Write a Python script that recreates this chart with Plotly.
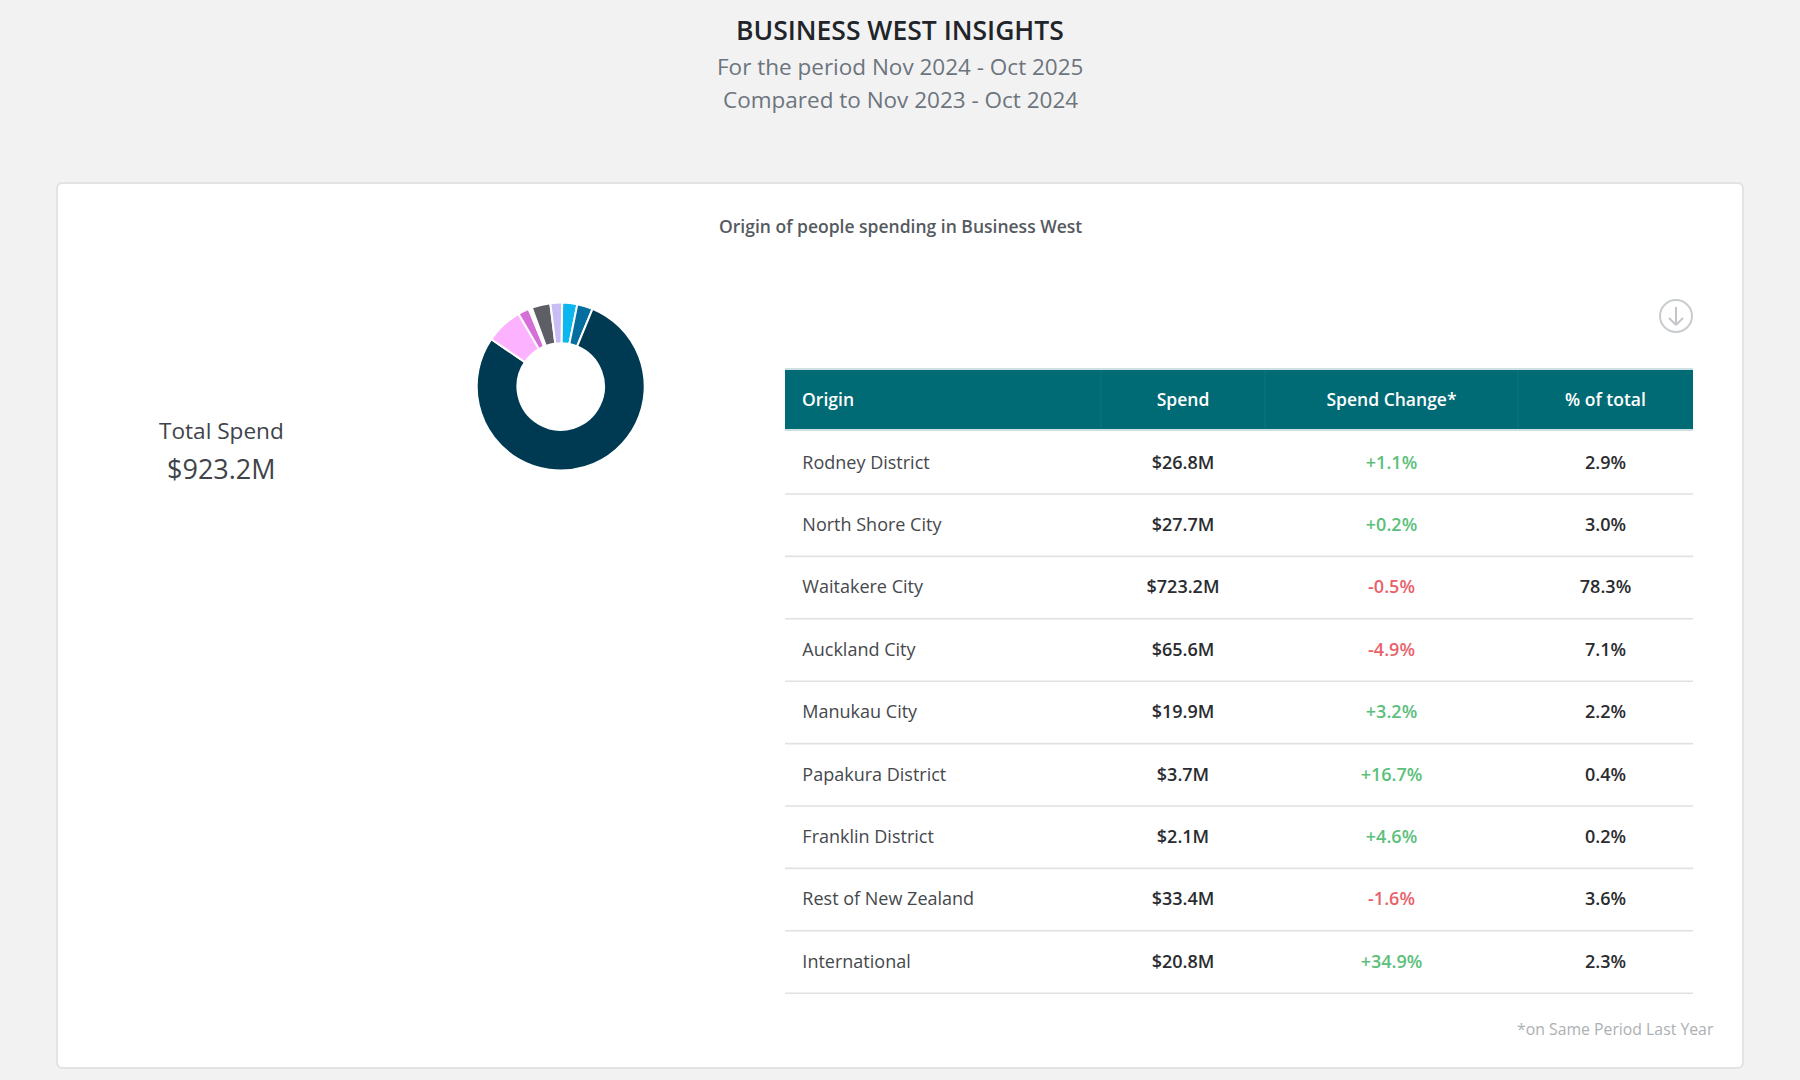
import plotly.graph_objects as go

W, H = 1800, 1080

origins = ["Rodney District", "North Shore City", "Waitakere City", "Auckland City", "Manukau City",
           "Papakura District", "Franklin District", "Rest of New Zealand", "International"]
spend = [26.8, 27.7, 723.2, 65.6, 19.9, 3.7, 2.1, 33.4, 20.8]
change = [1.1, 0.2, -0.5, -4.9, 3.2, 16.7, 4.6, -1.6, 34.9]
share = [2.9, 3.0, 78.3, 7.1, 2.2, 0.4, 0.2, 3.6, 2.3]
slice_colors = ["#0cb6ee", "#066d9f", "#003a52", "#fdb2ff", "#d36fd6", "#f7eef7", "#f7f7f7", "#5e5e66", "#c9bdf5"]
headers = ["Origin", "Spend", "Spend Change*", "% of total"]
column_px = [316, 164, 253, 175]

FONT = "Open Sans"
TEAL = "#006b75"
INK = "#2a2c30"
GREEN = "#5cbf7c"
RED = "#e8626c"
RULE = "#dfe1e3"
# plotly puts table text at the top of the cell, so the table sits lower than its painted rows
TEXT_DROP = 16


def px(x):
    return x / W


def py(y):
    return 1 - y / H


def note(x, y, text, size, color, weight=400, anchor="center"):
    return dict(x=px(x), y=py(y), xref="paper", yref="paper", text=text, showarrow=False,
                xanchor=anchor, yanchor="middle", font=dict(family=FONT, size=size, color=color, weight=weight))


def rule(x0, y0, x1, y1, color=RULE, width=1.6):
    return dict(type="line", xref="paper", yref="paper", x0=px(x0), y0=py(y0), x1=px(x1), y1=py(y1),
                line=dict(color=color, width=width), layer="above")


def card_path(x0, y0, x1, y1, r):
    return (f"M {px(x0 + r)} {py(y0)} L {px(x1 - r)} {py(y0)} Q {px(x1)} {py(y0)} {px(x1)} {py(y0 + r)} "
            f"L {px(x1)} {py(y1 - r)} Q {px(x1)} {py(y1)} {px(x1 - r)} {py(y1)} "
            f"L {px(x0 + r)} {py(y1)} Q {px(x0)} {py(y1)} {px(x0)} {py(y1 - r)} "
            f"L {px(x0)} {py(y0 + r)} Q {px(x0)} {py(y0)} {px(x0 + r)} {py(y0)} Z")


fig = go.Figure()

fig.add_trace(go.Pie(
    labels=origins, values=spend, hole=0.515, sort=False, direction="clockwise", rotation=1,
    marker=dict(colors=slice_colors, line=dict(color="#ffffff", width=2)),
    textinfo="none", showlegend=False,
    domain=dict(x=[px(560.7 - 84), px(560.7 + 84)], y=[py(386.5 + 84), py(386.5 - 84)]),
))

origin_col = ["\u00a0\u00a0" + o for o in origins]
spend_col = ["$%.1fM" % v for v in spend]
change_col = ["%+.1f%%" % v for v in change]
share_col = ["%.1f%%" % v for v in share]
change_colors = [GREEN if v > 0 else RED for v in change]
row_count = len(origins)

fig.add_trace(go.Table(
    domain=dict(x=[px(785), px(1693)], y=[py(1010), py(369 + TEXT_DROP)]),
    columnwidth=column_px,
    header=dict(
        values=["\u00a0\u00a0" + headers[0]] + headers[1:],
        fill_color="rgba(0,0,0,0)", line_width=0, height=62, align=["left", "center", "center", "center"],
        font=dict(family=FONT, size=17.5, color="#ffffff", weight=600),
    ),
    cells=dict(
        values=[origin_col, spend_col, change_col, share_col],
        fill_color="rgba(0,0,0,0)", line_width=0, height=62.4, align=["left", "center", "center", "center"],
        font=dict(family=FONT, size=18, color=["#45484c", INK, change_colors, INK], weight=[400, 600, 600, 600]),
    ),
))

shapes = [
    dict(type="path", xref="paper", yref="paper", path=card_path(57, 183, 1743, 1068, 6),
         fillcolor="#ffffff", line=dict(color="#e2e3e4", width=2), layer="below"),
    dict(type="rect", xref="paper", yref="paper", x0=px(785), y0=py(369), x1=px(1693), y1=py(430),
         fillcolor=TEAL, line_width=0, layer="below"),
]

# row rules and header details
for i in range(row_count):
    y = 494 + i * 62.4
    shapes.append(rule(785, y, 1693, y))
shapes.append(rule(785, 369, 1693, 369, "#cfe0e3", 2))
shapes.append(rule(785, 430, 1693, 430, "#cfe0e3", 2))
for x in [1101, 1265, 1518]:
    shapes.append(rule(x, 370, x, 429, "#0d7680", 1))

# download icon
shapes.append(dict(type="circle", xref="paper", yref="paper", x0=px(1660), y0=py(332), x1=px(1692), y1=py(300),
                   line=dict(color="#c9cccf", width=2), layer="above"))
shapes.append(rule(1676, 307, 1676, 325, "#c4c7ca", 2))
shapes.append(rule(1669, 318, 1676, 325, "#c4c7ca", 2))
shapes.append(rule(1683, 318, 1676, 325, "#c4c7ca", 2))

annotations = [
    note(900, 30, "BUSINESS WEST INSIGHTS", 26.5, "#212529", 600),
    note(900, 66, "For the period Nov 2024 - Oct 2025", 22.5, "#6c757d"),
    note(900, 100, "Compared to Nov 2023 - Oct 2024", 22.5, "#6c757d"),
    note(900, 226, "Origin of people spending in Business West", 17.5, "#555a60", 600),
    note(221, 430, "Total Spend", 22.6, "#40444a"),
    note(221, 468, "$923.2M", 27, "#40444a"),
    note(1716, 1029, "*on Same Period Last Year", 15.8, "#adb0b3", anchor="right"),
]

fig.update_layout(
    width=W, height=H, margin=dict(l=0, r=0, t=0, b=0), paper_bgcolor="#f3f2f3", plot_bgcolor="#f3f2f3",
    font=dict(family=FONT), shapes=shapes, annotations=annotations, showlegend=False,
)

fig.write_html("out.html", config=dict(displayModeBar=False), post_script="document.body.style.margin='0';")
